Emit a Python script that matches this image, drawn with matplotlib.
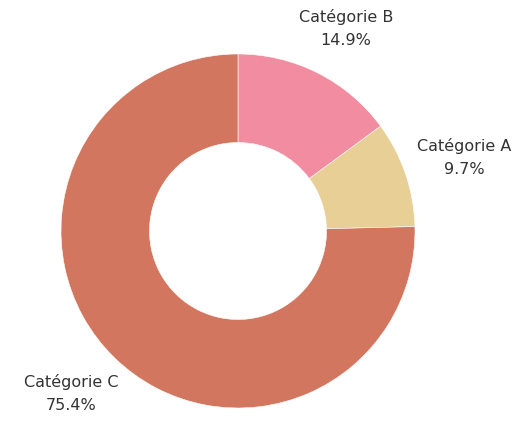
import matplotlib
matplotlib.use("Agg")
import matplotlib.pyplot as plt
import numpy as np

# Data
categories = ["Catégorie A", "Catégorie B", "Catégorie C"]
shares = [9.7, 14.9, 75.4]
colors = ["#e8cf96", "#f28ca0", "#d3765f"]

fig = plt.figure(figsize=(5.19, 4.21), dpi=100)
ax = fig.add_axes([0, 0, 1, 1])

# start so that B ends at 12 o'clock, C runs counterclockwise from there
start = 90 - (shares[0] + shares[1]) * 3.6
wedges, _ = ax.pie(
    shares,
    colors=colors,
    startangle=start,
    counterclock=True,
    radius=1.0,
    wedgeprops=dict(width=0.5, edgecolor="white", linewidth=0.4),
)

# labels outside each wedge at its mid angle
rx, ry = 1.35, 1.28
for w, name, val in zip(wedges, categories, shares):
    mid = np.deg2rad((w.theta1 + w.theta2) / 2)
    ax.text(
        rx * np.cos(mid),
        ry * np.sin(mid),
        f"{name}\n{val}%",
        ha="center",
        va="center",
        fontsize=11.5,
        color="#333333",
        linespacing=1.65,
        family="DejaVu Sans",
    )

ax.set_xlim(-238 / 177, (519 - 238) / 177)
ax.set_ylim(-190 / 177, 231 / 177)
ax.set_aspect("equal")
ax.axis("off")

plt.savefig("out.png", dpi=100)
